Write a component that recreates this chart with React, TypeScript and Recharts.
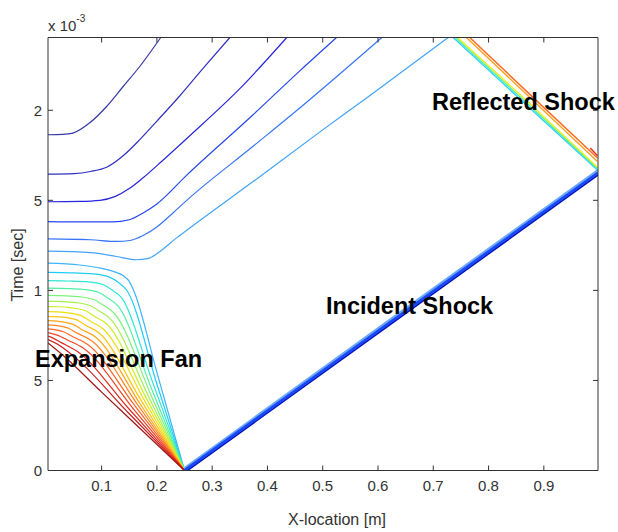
import { LineChart, Line, XAxis, YAxis } from 'recharts'

type Pt = [number, number]

// x in metres, t in units of 1e-3 s
const xTicks = [0.1, 0.2, 0.3, 0.4, 0.5, 0.6, 0.7, 0.8, 0.9]
const yTicks = [0, 0.5, 1, 1.5, 2]
const yTickLabels = ['0', '5', '1', '5', '2']

// contours above the fan (flat on the left, then bending up to the right)
const contourA: Pt[] = [[0.003, 1.864], [0.03, 1.866], [0.048, 1.873], [0.078, 1.929], [0.109, 2.021], [0.139, 2.132], [0.169, 2.243], [0.207, 2.404]]
const contourB: Pt[] = [[0.003, 1.645], [0.05, 1.648], [0.08, 1.66], [0.11, 1.685], [0.14, 1.75], [0.17, 1.84], [0.2, 1.94], [0.24, 2.075], [0.28, 2.22], [0.332, 2.404]]
const contourC: Pt[] = [[0.003, 1.492], [0.06, 1.494], [0.097, 1.5], [0.125, 1.522], [0.15, 1.565], [0.175, 1.625], [0.21, 1.72], [0.26, 1.86], [0.35, 2.12], [0.435, 2.404]]
const contourD: Pt[] = [[0.003, 1.382], [0.07, 1.38], [0.12, 1.38], [0.15, 1.392], [0.175, 1.43], [0.2, 1.48], [0.254, 1.64], [0.374, 1.975], [0.459, 2.22], [0.525, 2.404]]
const contourE: Pt[] = [[0.003, 1.286], [0.08, 1.281], [0.127, 1.272], [0.151, 1.277], [0.175, 1.305], [0.2, 1.352], [0.229, 1.43], [0.254, 1.5], [0.374, 1.8], [0.459, 2.014], [0.607, 2.404]]
const contourF: Pt[] = [[0.003, 1.218], [0.08, 1.21], [0.127, 1.188], [0.163, 1.17], [0.185, 1.178], [0.205, 1.215], [0.235, 1.29], [0.254, 1.334], [0.374, 1.604], [0.495, 1.88], [0.58, 2.07], [0.727, 2.404]]

// expansion fan contours, all meeting at the diaphragm (x = 0.25, t = 0)
const fan1: Pt[] = [[0.003, 1.151], [0.06, 1.141], [0.1, 1.122], [0.122, 1.104], [0.14, 1.08], [0.15, 1.05], [0.158, 1.0], [0.2, 0.545], [0.25, 0]]
const fan2: Pt[] = [[0.003, 1.1], [0.05, 1.097], [0.085, 1.092], [0.113, 1.075], [0.13, 1.045], [0.146, 0.998], [0.2, 0.48], [0.25, 0]]
const fan3: Pt[] = [[0.003, 1.054], [0.04, 1.052], [0.076, 1.047], [0.104, 1.03], [0.119, 1.002], [0.138, 0.952], [0.19, 0.51], [0.25, 0]]
const fan4: Pt[] = [[0.003, 1.012], [0.04, 1.01], [0.067, 1.005], [0.095, 0.988], [0.11, 0.96], [0.13, 0.912], [0.19, 0.456], [0.25, 0]]
const fan5: Pt[] = [[0.003, 0.972], [0.035, 0.97], [0.059, 0.965], [0.087, 0.948], [0.102, 0.92], [0.124, 0.869], [0.19, 0.414], [0.25, 0]]
const fan6: Pt[] = [[0.003, 0.94], [0.03, 0.938], [0.051, 0.933], [0.079, 0.916], [0.094, 0.888], [0.117, 0.838], [0.185, 0.41], [0.25, 0]]
const fan7: Pt[] = [[0.003, 0.91], [0.025, 0.909], [0.043, 0.904], [0.071, 0.887], [0.086, 0.858], [0.11, 0.812], [0.18, 0.406], [0.25, 0]]
const fan8: Pt[] = [[0.003, 0.882], [0.02, 0.881], [0.035, 0.877], [0.063, 0.86], [0.078, 0.832], [0.103, 0.786], [0.18, 0.375], [0.25, 0]]
const fan9: Pt[] = [[0.003, 0.856], [0.027, 0.852], [0.055, 0.836], [0.07, 0.808], [0.096, 0.762], [0.17, 0.396], [0.25, 0]]
const fan10: Pt[] = [[0.003, 0.832], [0.019, 0.829], [0.047, 0.813], [0.062, 0.786], [0.089, 0.741], [0.17, 0.368], [0.25, 0]]
const fan11: Pt[] = [[0.003, 0.808], [0.015, 0.806], [0.04, 0.79], [0.055, 0.764], [0.083, 0.718], [0.165, 0.366], [0.25, 0]]
const fan12: Pt[] = [[0.003, 0.786], [0.031, 0.77], [0.047, 0.744], [0.0755, 0.698], [0.16, 0.36], [0.25, 0]]
const fan13: Pt[] = [[0.003, 0.766], [0.021, 0.75], [0.037, 0.726], [0.066, 0.681], [0.16, 0.333], [0.25, 0]]
const fan14: Pt[] = [[0.003, 0.746], [0.012, 0.735], [0.027, 0.71], [0.055, 0.663], [0.15, 0.34], [0.25, 0]]
const fan15: Pt[] = [[0.003, 0.727], [0.018, 0.705], [0.044, 0.649], [0.15, 0.315], [0.25, 0]]
const fan16: Pt[] = [[0.003, 0.708], [0.03, 0.64], [0.1, 0.435], [0.17, 0.232], [0.25, 0]]

// incident shock band
const incidentUpper: Pt[] = [[0.25, 0.012], [0.62, 0.832], [0.998, 1.667]]
const incidentMid: Pt[] = [[0.25, 0], [0.62, 0.818], [0.998, 1.653]]
const incidentLower: Pt[] = [[0.255, 0], [0.62, 0.806], [0.998, 1.641]]

// reflected shock band
const reflected1: Pt[] = [[0.736, 2.404], [0.87, 2.025], [0.997, 1.668]]
const reflected2: Pt[] = [[0.74, 2.404], [0.87, 2.037], [0.997, 1.676]]
const reflected3: Pt[] = [[0.744, 2.404], [0.87, 2.05], [0.997, 1.684]]
const reflected4: Pt[] = [[0.76, 2.404], [0.88, 2.055], [0.997, 1.715]]
const reflected5: Pt[] = [[0.766, 2.404], [0.88, 2.073], [0.997, 1.735]]
const reflected6: Pt[] = [[0.984, 1.79], [0.997, 1.748]]

const upperLines = [contourA, contourB, contourC, contourD, contourE, contourF]
const upperColors = ['#3838a8', '#3030c4', '#2626de', '#2648f0', '#3675fa', '#42a4ff']
const fanLines = [fan1, fan2, fan3, fan4, fan5, fan6, fan7, fan8, fan9, fan10, fan11, fan12, fan13, fan14, fan15, fan16]
const fanColors = ['#3cb4ff', '#1ecdf5', '#2ee6d2', '#4ef0a6', '#7cf27a', '#a6f04c', '#ccee28', '#ecde12', '#ffc412', '#ffa416', '#ff8420', '#ff6224', '#f24424', '#dc2a22', '#c41a1a', '#a01414']
const incidentLines = [incidentUpper, incidentLower, incidentMid]
const incidentColors = ['#6aa8ff', '#0010b8', '#1a48f4']
const incidentWidths = [2.6, 1.8, 2.8]
const reflectedLines = [reflected1, reflected2, reflected3, reflected4, reflected5, reflected6]
const reflectedColors = ['#30d0ff', '#50f0a8', '#e8ee20', '#ffa020', '#ff6a20', '#e83010']

const toRows = (p: Pt[]) => p.map(([x, t]) => ({ x, t }))

const AXIS = '#333'
const FONT = '"Liberation Sans", Arial, sans-serif'
const X_DOMAIN: [number, number] = [0.003, 0.998]
const Y_DOMAIN: [number, number] = [0, 2.404]

function BottomTick({ x, y, payload }: any) {
  return (
    <g>
      <line x1={x} y1={y} x2={x} y2={y - 5} stroke={AXIS} />
      <text x={x} y={y + 20.5} textAnchor="middle" fontSize={15} fill="#333" fontFamily={FONT}>
        {payload.value}
      </text>
    </g>
  )
}

function LeftTick({ x, y, payload }: any) {
  const i = yTicks.indexOf(payload.value)
  return (
    <g>
      <line x1={x} y1={y} x2={x + 5} y2={y} stroke={AXIS} />
      <text x={x - 6} y={y + 5.5} textAnchor="end" fontSize={15} fill="#333" fontFamily={FONT}>
        {yTickLabels[i]}
      </text>
    </g>
  )
}

function TopTick({ x, y }: any) {
  return <line x1={x} y1={y} x2={x} y2={y + 5} stroke={AXIS} />
}

function RightTick({ x, y }: any) {
  return <line x1={x} y1={y} x2={x - 5} y2={y} stroke={AXIS} />
}

export default function App() {
  return (
    <div style={{ position: 'absolute', left: 0, top: 0, width: 618, height: 532, background: '#fff' }}>
      <LineChart width={618} height={532} margin={{ top: 36.5, right: 19, bottom: 31.5, left: 0 }}>
        <XAxis
          dataKey="x"
          type="number"
          domain={X_DOMAIN}
          allowDataOverflow
          ticks={xTicks}
          interval={0}
          height={30}
          tickSize={0}
          tickMargin={0}
          tickLine={false}
          tick={<BottomTick />}
          axisLine={{ stroke: AXIS }}
        />
        <XAxis
          xAxisId="top"
          orientation="top"
          dataKey="x"
          type="number"
          domain={X_DOMAIN}
          allowDataOverflow
          ticks={xTicks}
          interval={0}
          height={1}
          tickSize={0}
          tickMargin={0}
          tickLine={false}
          tick={<TopTick />}
          axisLine={{ stroke: AXIS }}
        />
        <YAxis
          type="number"
          domain={Y_DOMAIN}
          allowDataOverflow
          ticks={yTicks}
          interval={0}
          width={48}
          tickSize={0}
          tickMargin={0}
          tickLine={false}
          tick={<LeftTick />}
          axisLine={{ stroke: AXIS }}
        />
        <YAxis
          yAxisId="right"
          orientation="right"
          type="number"
          domain={Y_DOMAIN}
          allowDataOverflow
          ticks={yTicks}
          interval={0}
          width={1}
          tickSize={0}
          tickMargin={0}
          tickLine={false}
          tick={<RightTick />}
          axisLine={{ stroke: AXIS }}
        />
        {fanLines.map((d, i) => (
          <Line key={`fan${i}`} data={toRows(d)} dataKey="t" type="monotone" stroke={fanColors[i]} strokeWidth={1.2} dot={false} activeDot={false} isAnimationActive={false} />
        ))}
        {upperLines.map((d, i) => (
          <Line key={`up${i}`} data={toRows(d)} dataKey="t" type="monotone" stroke={upperColors[i]} strokeWidth={1.2} dot={false} activeDot={false} isAnimationActive={false} />
        ))}
        {incidentLines.map((d, i) => (
          <Line key={`inc${i}`} data={toRows(d)} dataKey="t" type="linear" stroke={incidentColors[i]} strokeWidth={incidentWidths[i]} dot={false} activeDot={false} isAnimationActive={false} />
        ))}
        {reflectedLines.map((d, i) => (
          <Line key={`ref${i}`} xAxisId="top" yAxisId="right" data={toRows(d)} dataKey="t" type="linear" stroke={reflectedColors[i]} strokeWidth={1.4} dot={false} activeDot={false} isAnimationActive={false} />
        ))}
      </LineChart>
      <svg width={618} height={532} style={{ position: 'absolute', left: 0, top: 0, pointerEvents: 'none' }} fontFamily={FONT}>
        <text x={48} y={31} fontSize={15} fill="#333">
          x 10<tspan fontSize={10} dy={-9}>-3</tspan>
        </text>
        <text x={23} y={265} fontSize={16} fill="#333" textAnchor="middle" transform="rotate(-90 23 265)">
          Time [sec]
        </text>
        <text x={337} y={525} fontSize={16} fill="#333" textAnchor="middle">
          X-location [m]
        </text>
        <g fontSize={23.5} fontWeight="bold" fill="#000">
          <text x={432} y={110}>Reflected Shock</text>
          <text x={326} y={314}>Incident Shock</text>
          <text x={35} y={367}>Expansion Fan</text>
        </g>
      </svg>
    </div>
  )
}
